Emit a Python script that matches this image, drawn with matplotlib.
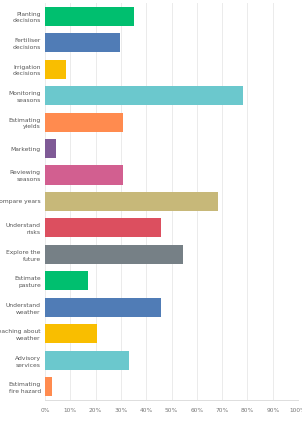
import matplotlib
matplotlib.use("Agg")
import matplotlib.pyplot as plt
from matplotlib.ticker import FuncFormatter

categories = ["Planting\ndecisions", "Fertiliser\ndecisions", "Irrigation\ndecisions",
              "Monitoring\nseasons", "Estimating\nyields", "Marketing", "Reviewing\nseasons",
              "Compare years", "Understand\nrisks", "Explore the\nfuture", "Estimate\npasture",
              "Understand\nweather", "Teaching about\nweather", "Advisory\nservices",
              "Estimating\nfire hazard"]
values = [35.3, 29.8, 8.3, 78.1, 31.0, 4.2, 31.0, 68.5, 46.0, 54.7, 17.0, 46.0, 20.4, 33.0, 2.9]
colors = ["#00BF6F", "#507CB6", "#F9BE00", "#6BC8CD", "#FF8B4F", "#7F5A96", "#D25F90",
          "#C7B879", "#DC4F5F", "#768086", "#00BF6F", "#507CB6", "#F9BE00", "#6BC8CD", "#FF8B4F"]
xticks = list(range(0, 101, 10))

fig = plt.figure(figsize=(3.02, 4.21), dpi=100)
ax = fig.add_axes([0.149, 0.05, 0.838, 0.943])
y = list(range(len(categories)))
ax.barh(y, values, height=0.72, color=colors, zorder=3)
ax.set_ylim(len(categories) - 0.5, -0.5)
ax.set_xlim(0, 100)
ax.set_xticks(xticks)
ax.xaxis.set_major_formatter(FuncFormatter(lambda v, p: f"{int(v)}%"))
ax.set_yticks(y)
ax.set_yticklabels(categories, fontsize=4.3, color="#555555", fontweight="medium",
                   linespacing=1.45)
ax.tick_params(axis="x", labelsize=4.2, colors="#777777", length=0, pad=6)
ax.tick_params(axis="y", length=0, pad=3)
ax.grid(axis="x", color="#ebebeb", linewidth=0.7, zorder=0)
for s in ["top", "right", "left"]:
    ax.spines[s].set_visible(False)
ax.spines["bottom"].set_color("#dddddd")
ax.spines["bottom"].set_linewidth(0.7)
fig.savefig("out.png", dpi=100, facecolor="white")
